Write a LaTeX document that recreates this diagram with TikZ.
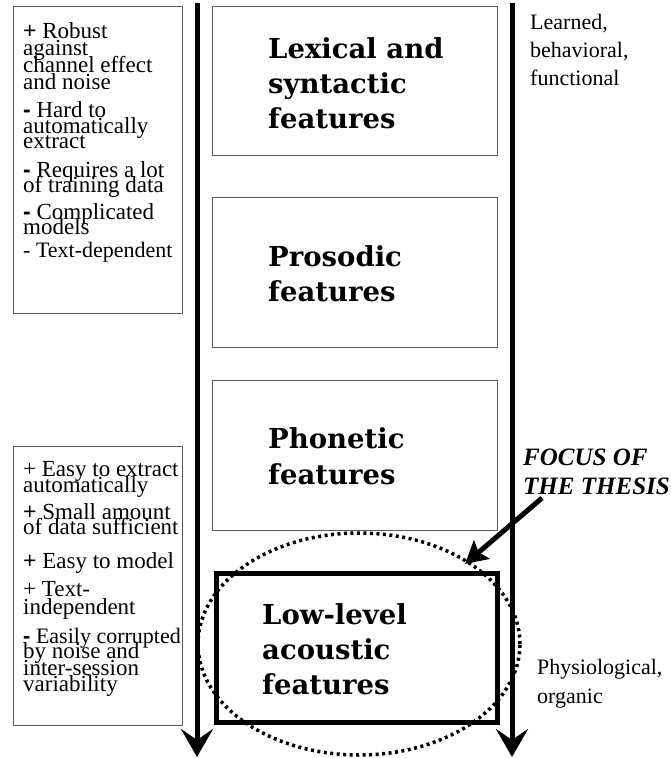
\documentclass[tikz,border=0pt]{standalone}
\usepackage{fontspec}
\setmainfont{Liberation Serif}
\newfontfamily\lsans{Liberation Sans}
\newfontfamily\dvserif{DejaVu Serif}
\usetikzlibrary{arrows.meta,shapes.geometric}
\newcommand\splus{{\lsans +}}
\newcommand\sminus{{\lsans\bfseries -}}
\begin{document}
\begin{tikzpicture}[x=1pt,y=-1pt,
  sidebox/.style={draw=black!65, line width=0.8pt, inner sep=0pt, anchor=north west, minimum width=169pt},
  lvlbox/.style={draw=black!65, line width=0.8pt, inner sep=0pt, anchor=north west, minimum width=285pt, minimum height=149pt},
  focbox/.style={draw=black, line width=5pt, inner sep=0pt, anchor=north west, minimum width=281pt, minimum height=149pt},
  ltxt/.style={anchor=base west, inner sep=0pt, font=\fontsize{23}{23}\selectfont},
  btxt/.style={anchor=base west, inner sep=0pt, font=\fontsize{27.5}{27.5}\dvserif\bfseries},
  rtxt/.style={anchor=base west, inner sep=0pt, font=\fontsize{22}{22}\selectfont},
  ftxt/.style={anchor=base west, inner sep=0pt, font=\fontsize{25}{25}\selectfont\bfseries\itshape},
  axisarrow/.style={line width=5pt, -{Stealth[length=28pt,width=32pt,inset=11pt]}},
  focusarrow/.style={line width=5pt, -{Stealth[length=22pt,width=24pt,inset=4pt]}},
  dotring/.style={draw=black, ellipse, line width=3.5pt, dash pattern=on 3pt off 3.5pt, inner sep=0pt, minimum width=322pt, minimum height=222pt},
]
\useasboundingbox (0,0) rectangle (670,758);

% side boxes
\node[sidebox, minimum height=307pt] (prosbox) at (13,6) {};
\node[sidebox, minimum height=279pt] (consbox) at (13,446) {};

% level boxes
\node[lvlbox] (lex) at (212,6) {};
\node[lvlbox, minimum height=150pt] (pros) at (212,197) {};
\node[lvlbox, minimum height=150pt] (phon) at (212,380) {};
\node[focbox] (low) at (214,571) {};

% dotted ring
\node[dotring] (ring) at (359,644) {};

% vertical arrows
\coordinate (ltop) at (197,3);
\coordinate (lbot) at (197,757);
\coordinate (rtop) at (512,3);
\coordinate (rbot) at (512,757);
\draw[axisarrow] (ltop) -- (lbot);
\draw[axisarrow] (rtop) -- (rbot);

% box texts
\node[btxt] (lx1) at (268,58) {Lexical and};
\node[btxt] (lx2) at (268,93) {syntactic};
\node[btxt] (lx3) at (268,128) {features};
\node[btxt] (pr1) at (268,266) {Prosodic};
\node[btxt] (pr2) at (268,301) {features};
\node[btxt] (ph1) at (268,448) {Phonetic};
\node[btxt] (ph2) at (268,484) {features};
\node[btxt] (lo1) at (262,624) {Low-level};
\node[btxt] (lo2) at (262,659) {acoustic};
\node[btxt] (lo3) at (262,694) {features};

% top-left texts
\node[ltxt] (t1) at (23,38) {\splus{} Robust};
\node[ltxt] (t2) at (23,55) {against};
\node[ltxt] (t3) at (23,72) {channel effect};
\node[ltxt] (t4) at (23,89) {and noise};
\node[ltxt] (t5) at (23,117) {\sminus{} Hard to};
\node[ltxt] (t6) at (23,133) {automatically};
\node[ltxt] (t7) at (23,148) {extract};
\node[ltxt] (t8) at (23,177) {\sminus{} Requires a lot};
\node[ltxt] (t9) at (23,192) {of training data};
\node[ltxt] (t10) at (23,219) {\sminus{} Complicated};
\node[ltxt] (t11) at (23,234) {models};
\node[ltxt, font=\fontsize{22}{22}\selectfont] (t12) at (23,257) {- Text-dependent};

% bottom-left texts
\node[ltxt] (b1) at (23,476) {+ Easy to extract};
\node[ltxt] (b2) at (23,492) {automatically};
\node[ltxt] (b3) at (23,519) {\splus{} Small amount};
\node[ltxt] (b4) at (23,534) {of data sufficient};
\node[ltxt] (b5) at (23,568) {\splus{} Easy to model};
\node[ltxt] (b6) at (23,596) {+ Text-};
\node[ltxt] (b7) at (23,614) {independent};
\node[ltxt, font=\fontsize{22}{22}\selectfont] (b8) at (23,643) {\sminus{} Easily corrupted};
\node[ltxt] (b9) at (23,658) {by noise and};
\node[ltxt] (b10) at (23,675) {inter-session};
\node[ltxt] (b11) at (23,691) {variability};

% right texts
\node[rtxt] (r1) at (530,29) {Learned,};
\node[rtxt] (r2) at (530,57) {behavioral,};
\node[rtxt] (r3) at (530,85) {functional};
\node[rtxt] (r4) at (537,674) {Physiological,};
\node[rtxt] (r5) at (537,703) {organic};

% focus label and arrow
\node[ftxt] (f1) at (523,465) {FOCUS OF};
\node[ftxt] (f2) at (523,494) {THE THESIS};
\coordinate (fs) at (542,498);
\coordinate (ft) at (465,564);
\draw[focusarrow] (fs) -- (ft);
\end{tikzpicture}
\end{document}
